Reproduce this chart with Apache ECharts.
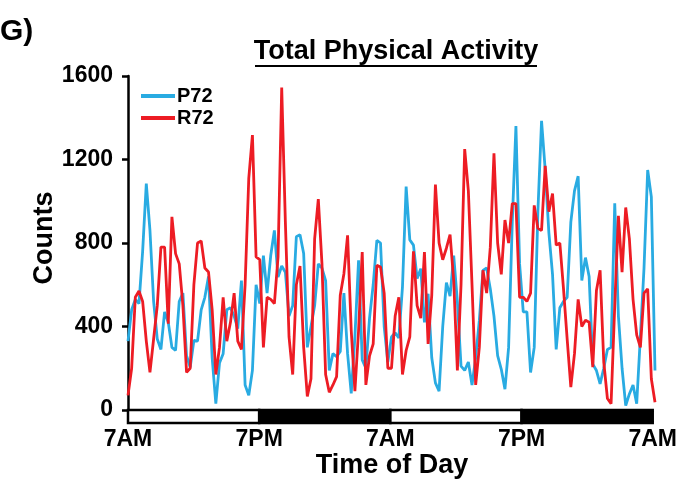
<!DOCTYPE html>
<html>
<head>
<meta charset="utf-8">
<script src="https://cdn.jsdelivr.net/npm/echarts@6/dist/echarts.min.js"></script>
<style>html,body{margin:0;padding:0;background:#fff}#c{width:680px;height:481px}</style>
</head>
<body>
<div id="c"></div>
<script>
// 20-minute bins across 48 hours starting at 7AM (hours from start)
const binHours = 1 / 3;
const p72 = [330,480,530,510,760,1085,860,520,340,290,470,420,300,285,520,560,260,205,333,330,480,540,640,250,30,
  225,270,480,490,450,390,620,120,70,190,600,510,740,560,740,860,637,690,660,450,500,830,840,750,
  300,400,500,700,680,620,190,270,255,280,560,270,80,350,717,240,200,440,600,813,800,400,230,350,
  370,345,590,1070,815,790,630,677,420,557,250,130,90,400,610,545,740,520,210,190,230,120,250,429,
  669,680,580,450,260,195,100,300,900,1360,700,470,470,180,300,950,1385,1150,850,650,290,490,520,540,
  900,1050,1120,620,730,640,220,189,125,200,290,300,990,450,200,21,77,120,30,350,680,1150,1021,189];
const r72 = [70,200,540,570,520,330,180,340,500,780,780,413,925,749,700,500,180,200,600,800,810,680,661,480,170,
  300,540,330,420,560,330,290,600,1110,1317,733,720,300,540,530,510,733,1545,900,350,170,600,690,300,
  65,150,820,1010,700,170,85,120,160,550,653,837,381,90,381,757,120,260,317,693,685,560,200,200,
  450,540,170,285,350,760,500,440,757,317,550,1080,800,720,775,840,620,189,600,1250,1050,600,120,301,
  669,560,780,1230,800,650,910,800,989,989,540,540,520,560,980,870,860,1170,950,1037,790,800,580,340,
  110,270,530,400,430,420,205,573,669,230,55,30,500,930,660,970,820,530,360,300,560,580,150,37];
const seriesNames = ['P72', 'R72'];
const xTickLabels = ['7AM', '7PM', '7AM', '7PM', '7AM'];
const yTicks = [0, 400, 800, 1200, 1600];
// light/dark periods: [startHour, endHour, isDark]
const lightDark = [[0, 12, 0], [12, 24, 1], [24, 36, 0], [36, 48, 1]];

const toPairs = arr => arr.map((v, i) => [i * binHours, v]);
const FONT = "'Liberation Sans', Arial, sans-serif";

const chart = echarts.init(document.getElementById('c'), null, {renderer: 'canvas'});
chart.setOption({
  animation: false,
  backgroundColor: '#fff',
  textStyle: {fontFamily: FONT},
  grid: [
    {left: 128, right: 25, top: 76, bottom: 71},
    {left: 128, right: 25, top: 410, height: 13}
  ],
  legend: {
    orient: 'vertical', left: 136, top: 81, itemGap: 2,
    itemWidth: 34, itemHeight: 4, icon: 'rect',
    textStyle: {fontFamily: FONT, fontWeight: 'bold', fontSize: 20, color: '#000', lineHeight: 20, padding: [0,0,0,-3]},
    data: seriesNames
  },
  xAxis: [
    {gridIndex: 0, type: 'value', min: 0, max: 48, interval: 12,
     axisLine: {show: false}, axisTick: {show: false}, axisLabel: {show: false}, splitLine: {show: false}},
    {gridIndex: 1, type: 'value', min: 0, max: 48, interval: 12,
     axisLine: {show: false}, axisTick: {show: false}, splitLine: {show: false},
     axisLabel: {show: true, margin: 5, color: '#000', fontFamily: FONT, fontWeight: 'bold', fontSize: 23,
       formatter: v => xTickLabels[Math.round(v / 12)]}}
  ],
  yAxis: [
    {gridIndex: 0, type: 'value', min: yTicks[0], max: yTicks[yTicks.length - 1], interval: 400,
     axisLine: {show: true, lineStyle: {color: '#000', width: 2.5}},
     axisTick: {show: true, length: 6, lineStyle: {color: '#000', width: 2.5}},
     splitLine: {show: false},
     axisLabel: {margin: 15, color: '#000', fontFamily: FONT, fontWeight: 'bold', fontSize: 23,
       formatter: v => String(v)}},
    {gridIndex: 1, type: 'value', min: 0, max: 1, show: false}
  ],
  series: [
    {name: seriesNames[0], type: 'line', xAxisIndex: 0, yAxisIndex: 0, data: toPairs(p72),
     symbol: 'none', lineStyle: {color: '#29ABE2', width: 2.8}, itemStyle: {color: '#29ABE2'}, z: 3},
    {name: seriesNames[1], type: 'line', xAxisIndex: 0, yAxisIndex: 0, data: toPairs(r72),
     symbol: 'none', lineStyle: {color: '#ED1C24', width: 2.8}, itemStyle: {color: '#ED1C24'}, z: 4},
    {type: 'custom', xAxisIndex: 1, yAxisIndex: 1, data: lightDark, silent: true,
     renderItem: function (params, api) {
       const s = api.coord([api.value(0), 1]);
       const e = api.coord([api.value(1), 0]);
       return {type: 'rect', shape: {x: s[0], y: s[1], width: e[0] - s[0], height: e[1] - s[1]},
         style: {fill: api.value(2) ? '#000' : '#fff', stroke: '#000', lineWidth: 2.5}};
     }}
  ],
  graphic: [
    {type: 'text', left: 0, top: 17, style: {text: 'G)', fontFamily: FONT, fontWeight: 'bold', fontSize: 30, fill: '#000'}},
    {type: 'text', x: 396, y: 52, style: {text: 'Total Physical Activity', fontFamily: FONT, fontWeight: 'bold', fontSize: 27,
      fill: '#000', align: 'center', verticalAlign: 'middle'}},
    {type: 'line', shape: {x1: 255, y1: 66, x2: 537, y2: 66}, style: {stroke: '#000', lineWidth: 2}},
    {type: 'text', x: 45, y: 238, rotation: Math.PI / 2, style: {text: 'Counts', fontFamily: FONT, fontWeight: 'bold', fontSize: 27,
      fill: '#000', align: 'center', verticalAlign: 'middle'}},
    {type: 'text', x: 392, y: 466, style: {text: 'Time of Day', fontFamily: FONT, fontWeight: 'bold', fontSize: 27,
      fill: '#000', align: 'center', verticalAlign: 'middle'}}
  ]
});
</script>
</body>
</html>
